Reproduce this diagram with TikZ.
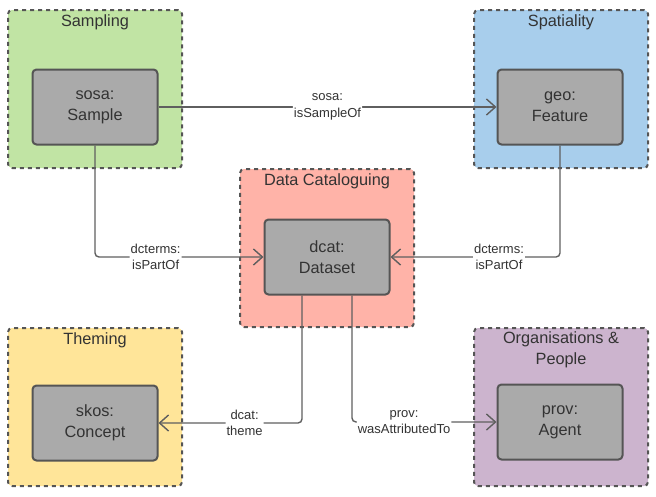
\documentclass[tikz,border=0pt]{standalone}
\usepackage{fontspec}
\setmainfont{Liberation Sans}
\usetikzlibrary{arrows.meta}
\usetikzlibrary{positioning}

\definecolor{sampgreen}{RGB}{193,228,164}
\definecolor{spatblue}{RGB}{168,206,236}
\definecolor{catred}{RGB}{255,179,168}
\definecolor{themyellow}{RGB}{255,229,153}
\definecolor{orgpurple}{RGB}{204,180,206}
\definecolor{boxgrey}{RGB}{170,170,170}
\definecolor{boxline}{RGB}{85,85,85}
\definecolor{relline}{RGB}{95,95,95}
\definecolor{txt}{RGB}{51,51,51}

\tikzset{
  group/.style={draw=boxline, dash pattern=on 4pt off 4pt, line width=2pt,
    rounded corners=4pt, minimum width=174pt, minimum height=158pt, inner sep=0pt},
  class/.style={draw=boxline, fill=boxgrey, line width=2pt, rounded corners=4pt,
    minimum width=125pt, minimum height=75pt, align=center, text=txt,
    font=\fontsize{16.3}{21}\selectfont},
  title/.style={align=center, text=txt, font=\fontsize{16.3}{21}\selectfont},
  rel/.style={draw=relline, line width=1.4pt, rounded corners=4pt,
    -{Straight Barb[length=9pt,width=16pt,line width=1.4pt]}},
  lbl/.style={fill=white, align=center, inner sep=1pt, text=txt,
    font=\fontsize{13}{16.5}\selectfont}
}

\begin{document}
\begin{tikzpicture}[x=1pt,y=-1pt]
\useasboundingbox (0,0) rectangle (656,496);

% groups
\node[group, fill=sampgreen] (gsamp) at (95,89) {};
\node[group, fill=spatblue] (gspat) at (561,89) {};
\node[group, fill=catred] (gcat) at (327,248) {};
\node[group, fill=themyellow] (gthem) at (95,407) {};
\node[group, fill=orgpurple] (gorg) at (561,407) {};

\node[title] (tsamp) at (95,22) {Sampling};
\node[title] (tspat) at (561,22) {Spatiality};
\node[title] (tcat) at (327,181) {Data Cataloguing};
\node[title] (tthem) at (95,340) {Theming};
\node[title] (torg) at (561,350) {Organisations \&\\People};

% classes
\node[class] (sample) at (95,107) {sosa:\\Sample};
\node[class] (feature) at (560,107) {geo:\\Feature};
\node[class] (dataset) at (327,257) {dcat:\\Dataset};
\node[class] (concept) at (95,423) {skos:\\Concept};
\node[class] (agent) at (560,422) {prov:\\Agent};

% relations
\draw[rel] (sample) -- (feature) node[lbl, midway] {sosa:\\isSampleOf};
\draw[rel] (sample.south) |- (dataset.west) node[lbl, pos=0.68] {dcterms:\\isPartOf};
\draw[rel] (feature.south) |- (dataset.east) node[lbl, pos=0.68] {dcterms:\\isPartOf};
\draw[rel] ([xshift=-25pt]dataset.south) |- (concept.east) node[lbl, pos=0.7] {dcat:\\theme};
\draw[rel] ([xshift=25pt]dataset.south) |- (agent.west) node[lbl, pos=0.68] {prov:\\wasAttributedTo};
\end{tikzpicture}
\end{document}
